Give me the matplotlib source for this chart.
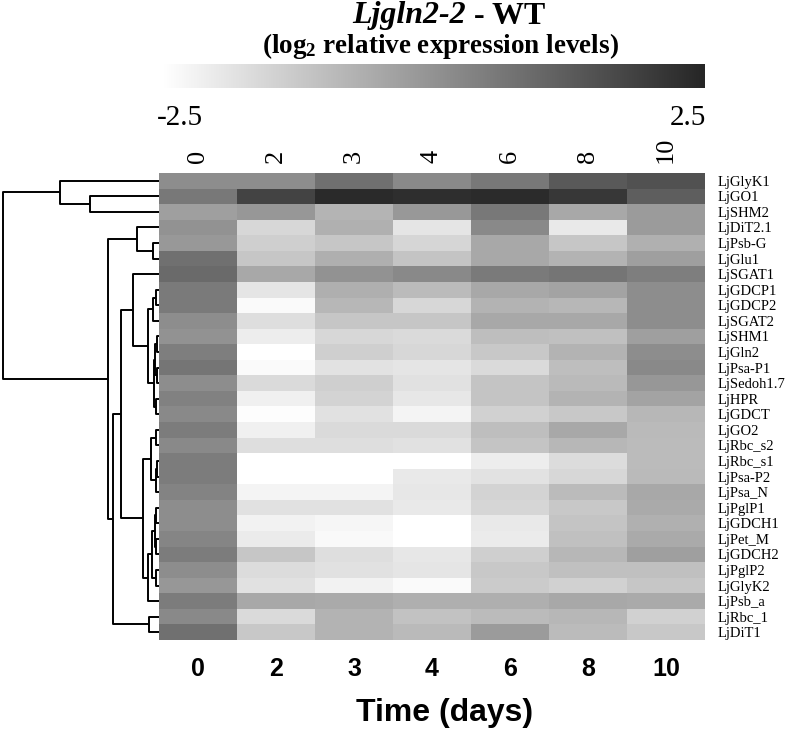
import numpy as np
import matplotlib
matplotlib.use('Agg')
import matplotlib.pyplot as plt
from matplotlib.colors import LinearSegmentedColormap
from matplotlib.offsetbox import TextArea, HPacker, AnnotationBbox
import matplotlib.transforms as mtransforms

plt.rcParams['mathtext.default'] = 'regular'

# genes (rows, top to bottom) and days (columns)
genes = ['LjGlyK1', 'LjGO1', 'LjSHM2', 'LjDiT2.1', 'LjPsb-G', 'LjGlu1', 'LjSGAT1',
         'LjGDCP1', 'LjGDCP2', 'LjSGAT2', 'LjSHM1', 'LjGln2', 'LjPsa-P1', 'LjSedoh1.7',
         'LjHPR', 'LjGDCT', 'LjGO2', 'LjRbc_s2', 'LjRbc_s1', 'LjPsa-P2', 'LjPsa_N',
         'LjPglP1', 'LjGDCH1', 'LjPet_M', 'LjGDCH2', 'LjPglP2', 'LjGlyK2', 'LjPsb_a',
         'LjRbc_1', 'LjDiT1']
days = ['0', '2', '3', '4', '6', '8', '10']

# log2 relative expression, one list per day
d0 = [0.1, 0.6, -0.3, 0.0, -0.15, 0.8, 0.9, 0.55, 0.55, 0.1, 0.0, 0.45, 0.65, 0.1, 0.4,
      0.2, 0.5, 0.2, 0.5, 0.5, 0.35, 0.1, 0.1, 0.3, 0.5, 0.1, -0.1, 0.5, 0.2, 0.8]
d2 = [0.1, 1.8, -0.1, -1.6, -1.4, -1.2, -0.5, -1.9, -2.4, -1.75, -2.1, -2.5, -2.4, -1.65, -2.15,
      -2.45, -2.15, -1.75, -2.5, -2.5, -2.25, -1.8, -2.2, -2.05, -1.2, -1.7, -1.8, -0.5, -1.65, -1.25]
d3 = [0.8, 2.4, -0.8, -0.7, -1.2, -0.65, 0.0, -0.65, -0.85, -1.2, -1.6, -1.4, -1.85, -1.4, -1.5,
      -1.8, -1.65, -1.75, -2.5, -2.5, -2.25, -1.8, -2.3, -2.35, -1.75, -1.8, -2.2, -0.55, -0.75, -0.75]
d4 = [0.2, 2.3, -0.15, -1.9, -1.55, -1.15, 0.2, -0.95, -1.6, -1.2, -1.65, -1.6, -1.9, -1.8, -1.95,
      -2.25, -1.65, -1.8, -2.5, -2.0, -1.95, -2.0, -2.5, -2.5, -1.95, -1.9, -2.4, -0.65, -1.1, -0.9]
d6 = [0.6, 2.35, 0.6, 0.2, -0.5, -0.5, 0.55, -0.5, -0.75, -0.5, -1.0, -1.25, -1.65, -1.15, -1.15,
      -1.45, -1.0, -1.15, -2.1, -1.85, -1.5, -1.55, -2.0, -2.05, -1.4, -1.25, -1.3, -0.65, -0.95, -0.2]
d8 = [1.3, 2.1, -0.5, -2.0, -1.2, -0.75, 0.65, -0.4, -0.85, -0.5, -1.05, -0.75, -1.0, -0.9, -0.75,
      -1.25, -0.5, -0.85, -1.7, -1.6, -0.95, -1.25, -1.15, -1.05, -0.85, -1.05, -1.45, -0.5, -0.85, -0.95]
d10 = [1.5, 1.2, -0.2, -0.2, -0.7, -0.3, 0.45, 0.1, 0.1, 0.1, -0.3, 0.1, 0.2, -0.1, -0.4,
       -0.85, -0.9, -0.95, -0.95, -0.9, -0.5, -0.55, -0.7, -0.55, -0.3, -1.05, -1.2, -0.55, -1.45, -1.25]

# row dendrogram: (left, right, merge height), leaves are row indices
c12 = (1, 2, 69)
cA = (0, c12, 99)
cC = (3, (4, 5, 6.3), 22)
cH = ((7, 8, 3), 9, 6.3)
cJ = (((10, 11, 2.5), (12, 13, 2.5), 4), (14, 15, 3), 5)
cF = (6, (cH, cJ, 11.3), 25.7)
cL = ((16, 17, 3.3), ((18, 19, 2), 20, 3.3), 8)
cN = (((21, 22, 3), (23, 24, 3), 4.5), (25, 26, 3), 6.7)
cK = (cL, (cN, 27, 11.3), 15.7)
cD = ((cF, cK, 38.3), (28, 29, 10), 45.7)
tree = (cA, (cC, cD, 51), 156)

vmin, vmax = -2.5, 2.5
cmap = LinearSegmentedColormap.from_list('gr', ['#ffffff', '#262626'])

W, H = 796, 731
fig = plt.figure(figsize=(W / 100, H / 100), dpi=100)

def rect(x0, y0, x1, y1):
    return [x0 / W, 1 - y1 / H, (x1 - x0) / W, (y1 - y0) / H]

hx0, hy0, hx1, hy1 = 159, 173, 705, 640

# heatmap
data = np.array([d0, d2, d3, d4, d6, d8, d10]).T
ax = fig.add_axes(rect(hx0, hy0, hx1, hy1))
ax.imshow(data, cmap=cmap, vmin=vmin, vmax=vmax, aspect='auto', interpolation='nearest')
for s in ax.spines.values():
    s.set_visible(False)
ax.xaxis.tick_top()
ax.set_xticks(range(len(days)))
ax.set_xticklabels(days, rotation=90, fontsize=19, family='Liberation Serif')
ax.yaxis.tick_right()
ax.set_yticks(range(len(genes)))
ax.set_yticklabels(genes, fontsize=10.5, family='Liberation Serif')
ax.tick_params(length=0)
ax.tick_params(axis='x', pad=7)
ax.tick_params(axis='y', pad=9)

# bottom labels
tr = mtransforms.blended_transform_factory(ax.transData, fig.transFigure)
for i, d in enumerate(days):
    ax.text(i, 1 - 669 / H, d, transform=tr, ha='center', va='center',
            fontsize=18, fontweight='bold', family='Liberation Sans')
fig.text(445 / W, 1 - 713 / H, 'Time (days)', ha='center', va='center',
         fontsize=23, fontweight='bold', family='Liberation Sans')

# dendrogram
axd = fig.add_axes(rect(0, hy0, hx0, hy1))

def draw(node):
    if isinstance(node, int):
        return node, 0
    l, r, h = node
    yl, hl = draw(l)
    yr, hr = draw(r)
    axd.plot([hl, h, h, hr], [yl, yl, yr, yr], color='black', lw=1.4, solid_capstyle='butt')
    return (yl + yr) / 2, h

draw(tree)
axd.set_xlim(159, 0)
axd.set_ylim(len(genes) - 0.5, -0.5)
axd.axis('off')

# colour bar
axc = fig.add_axes(rect(163, 64, 705, 88))
axc.imshow(np.linspace(vmin, vmax, 256)[None, :], cmap=cmap, vmin=vmin, vmax=vmax, aspect='auto')
axc.axis('off')
fig.text(157 / W, 1 - 118 / H, '-2.5', ha='left', va='center', fontsize=21, family='Liberation Serif')
fig.text(706 / W, 1 - 118 / H, '2.5', ha='right', va='center', fontsize=21, family='Liberation Serif')

# titles
t1 = TextArea('Ljgln2-2', textprops=dict(fontsize=23, fontweight='bold', style='italic', family='Liberation Serif'))
t2 = TextArea(' - WT', textprops=dict(fontsize=23, fontweight='bold', family='Liberation Serif'))
box = HPacker(children=[t1, t2], align='baseline', pad=0, sep=0)
ab = AnnotationBbox(box, (449 / W, 1 - 16 / H), xycoords='figure fraction', frameon=False,
                    box_alignment=(0.5, 0.5))
fig.add_artist(ab)
fig.text(440 / W, 1 - 46 / H, '(log$_2$ relative expression levels)', ha='center', va='center',
         fontsize=19.5, fontweight='bold', family='Liberation Serif')

fig.savefig('out.png', dpi=100)
